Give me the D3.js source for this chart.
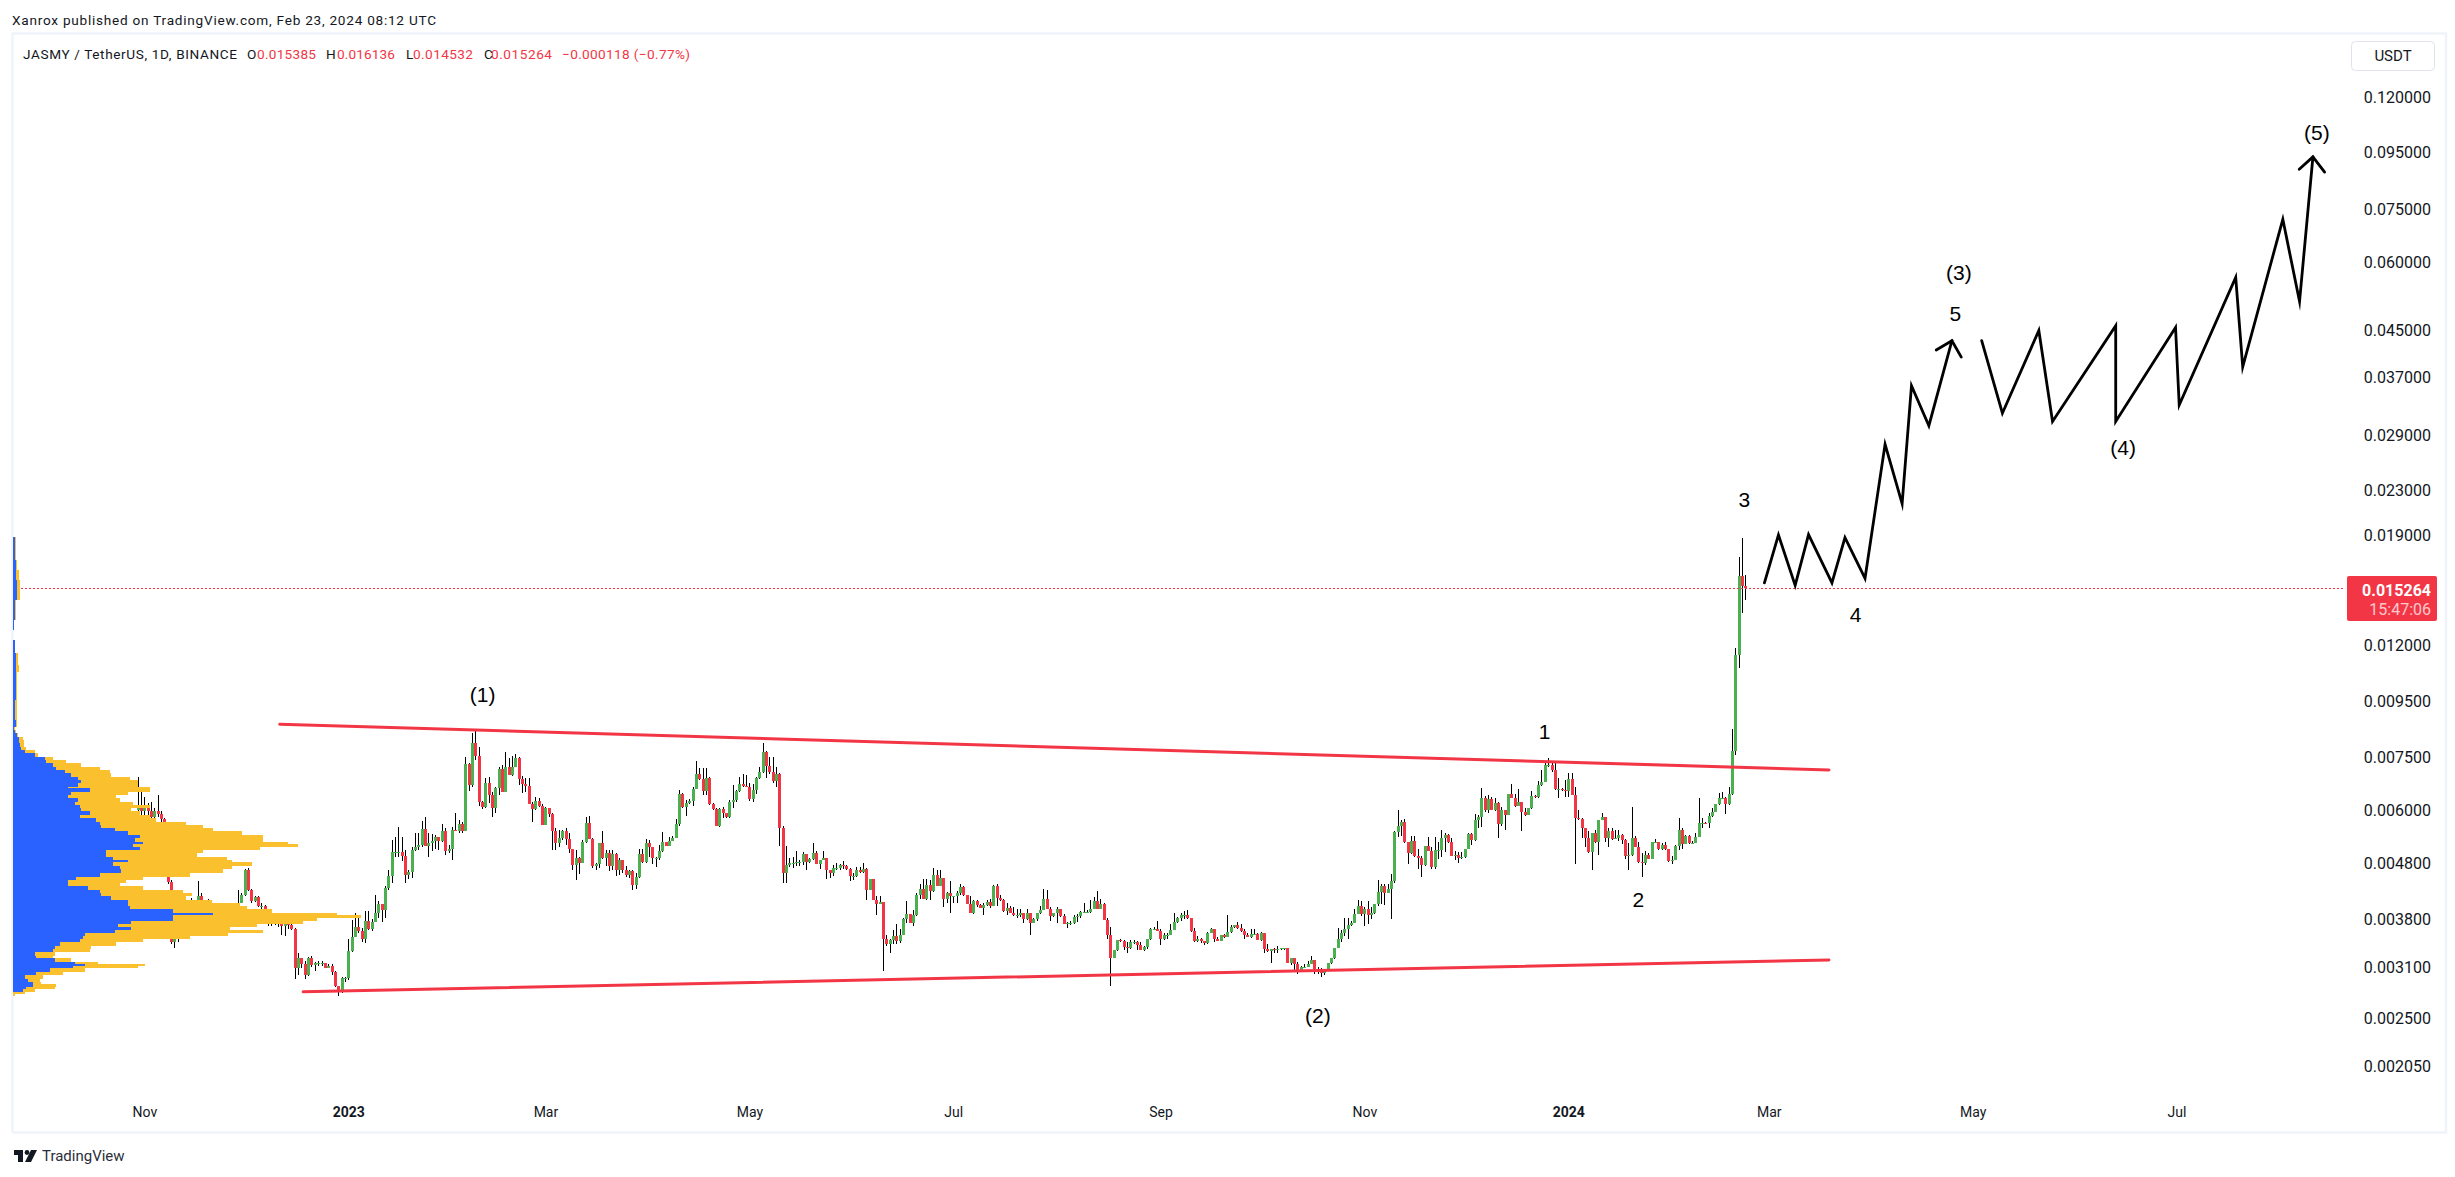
<!DOCTYPE html>
<html><head><meta charset="utf-8">
<script src="https://cdn.jsdelivr.net/npm/d3@7"></script>
<style>
html,body{margin:0;padding:0;background:#fff;overflow:hidden}
text{font-family:Roboto,"Noto Sans",sans-serif;fill:#131722}
</style></head><body><svg id="c" width="2455" height="1177"></svg>
<script>
// Prices below are in units of 0.00001 USDT
const UNIT = 1e-5;
const firstOpen = 600;
const closes = [
609,597,605,597,584,599,590,578,457,444,345,352,359,367,374,390,401,407,418,410,401,407,396,390,385,390,382,380,385,377,407,421,466,430,410,417,401,402,396,372,375,379,374,369,374,370,365,
309,322,315,301,322,313,316,316,316,310,
312,304,287,281,297,297,332,353,367,361,
349,377,364,375,389,404,395,433,456,503,
503,503,496,457,463,508,514,518,554,517,
522,527,536,528,550,506,511,552,551,566,
550,730,668,797,753,622,609,672,640,606,
658,714,649,719,696,721,748,685,670,665,
616,603,625,611,565,606,590,549,524,534,
550,531,511,477,492,481,525,568,532,475,
479,523,491,501,474,499,466,487,467,457,
465,439,453,499,483,522,514,492,492,506,
525,517,527,534,566,643,609,618,625,656,
699,684,652,686,615,603,562,603,592,584,
620,627,652,670,665,663,628,653,686,704,
767,723,704,679,699,558,462,476,480,480,
483,
483,499,483,490,501,479,487,491,466,462,
471,471,476,475,468,456,456,467,463,469,
429,450,411,405,408,349,342,348,354,346,
356,380,388,373,386,421,432,414,438,428,
457,437,452,414,424,418,418,424,434,420,
405,389,410,403,398,403,409,402,436,415,
411,393,398,390,386,387,390,380,389,374,
380,389,394,414,396,385,389,396,385,372,
374,374,384,385,391,391,392,397,410,397,
405,379,355,323,333,348,347,338,337,345,
345,341,334,338,349,364,365,361,349,356,
356,363,376,381,387,387,381,361,346,349,
346,343,359,364,349,347,356,352,360,367,
370,366,362,356,353,357,357,348,359,335,
332,335,334,335,336,336,316,322,315,307,
311,311,315,320,308,305,303,308,316,322,
336,349,359,364,370,374,388,401,388,397,
387,389,404,426,436,424,431,445,547,562,
572,525,501,528,496,492,476,516,506,472,
508,508,533,541,525,496,498,492,494,510,
543,530,576,583,633,601,628,601,619,567,
600,589,643,633,611,622,596,589,607,637,
635,667,675,725,725,711,656,656,653,652,
684,640,580,579,556,535,503,545,525,576,
584,535,550,531,533,541,530,496,498,533,
515,482,481,498,489,525,525,510,518,510,
484,487,516,552,520,538,522,524,537,570,
570,569,587,595,616,633,633,617,643,770,
1152,1605,1538,1526.4];
const highs = [
689,653,635,618,620,605,640,599,580,464,448,354,364,372,380,396,415,412,445,424,412,413,410,398,393,396,393,388,390,390,430,424,468,471,431,418,418,406,403,396,382,384,381,377,377,375,373,
366,329,320,319,324,325,317,319,319,315,
314,314,305,287,298,298,349,379,390,382,
366,393,393,380,421,410,404,436,467,530,
537,560,537,508,467,515,545,545,574,584,
545,543,541,537,566,556,518,560,592,576,
572,752,731,829,837,784,625,686,691,649,
663,719,726,768,746,754,760,750,693,686,
686,620,635,633,615,609,607,592,558,552,
552,556,545,511,508,494,530,584,586,533,
481,524,549,508,508,508,501,492,486,474,
467,467,461,511,511,531,530,515,494,518,
547,526,537,539,578,653,644,627,629,661,
738,717,716,716,691,618,605,605,609,594,
627,667,653,691,698,696,672,670,691,719,
795,770,750,750,719,701,562,516,491,494,
506,
487,503,499,492,523,505,487,506,491,467,
477,480,479,485,477,471,462,473,473,481,
471,450,450,418,418,409,356,349,363,372,
364,381,410,388,395,424,440,449,450,448,
471,467,467,452,426,445,419,427,440,436,
421,419,411,411,404,407,412,413,438,441,
421,413,407,401,399,396,396,389,397,390,
382,390,401,432,429,399,390,399,396,388,
375,377,386,388,393,406,394,412,417,427,
413,407,381,368,333,348,350,348,345,348,
348,346,345,340,349,366,368,377,364,358,
359,372,389,384,389,393,395,381,366,354,
351,347,360,366,364,352,356,357,386,370,
370,375,372,364,358,365,364,359,360,359,
342,335,337,339,337,337,336,322,323,317,
312,314,319,325,320,311,309,308,316,323,
336,366,363,381,381,377,396,411,410,399,
410,399,404,448,441,440,440,459,549,601,
576,578,526,538,538,511,495,516,537,515,
536,526,552,545,543,533,505,503,503,510,
545,545,590,589,658,637,640,635,631,622,
608,600,643,669,643,655,622,605,607,652,
640,678,711,736,746,739,736,686,658,681,
703,703,663,600,582,558,549,545,552,576,
592,584,558,556,552,552,543,531,522,608,
538,526,501,505,501,525,531,526,522,526,
511,495,519,582,556,541,541,528,545,631,
582,572,592,605,617,644,649,635,663,845,
1184,1736,1880,1613.6];
const lows = [
584,576,584,582,577,580,584,572,454,441,342,337,345,357,364,372,380,390,401,396,390,396,388,382,377,380,374,372,374,367,374,406,418,427,407,408,399,396,385,369,369,370,367,355,354,365,363,
296,300,309,295,299,311,305,312,312,309,
311,301,286,275,278,292,294,331,353,359,
345,344,363,361,375,382,375,382,430,443,
494,494,484,443,450,451,505,508,515,516,
494,505,511,508,526,497,501,487,549,545,
546,549,651,663,741,611,603,605,618,584,
592,640,649,649,696,694,719,668,646,649,
616,572,601,609,564,564,584,508,508,515,
530,519,501,467,447,459,480,522,531,471,
467,471,490,474,464,466,455,457,461,453,
451,430,431,451,480,481,494,479,473,487,
503,516,516,531,533,562,607,586,616,611,
655,681,640,640,614,601,562,559,582,582,
582,605,622,649,663,661,625,620,643,684,
701,686,699,672,663,516,443,443,473,471,
474,
475,477,466,480,487,479,469,487,449,451,
456,467,467,468,466,445,448,454,461,461,
412,429,411,387,405,305,339,330,342,342,
343,355,373,373,369,385,413,414,412,411,
425,437,437,400,407,389,407,406,421,418,
404,389,388,400,398,387,401,398,401,402,
410,392,386,390,385,382,384,374,379,356,
373,377,388,394,396,377,384,373,384,372,
366,371,372,375,382,390,390,390,397,397,
397,378,349,287,323,332,345,333,330,335,
342,334,333,332,335,348,364,361,341,348,
349,357,363,374,377,380,380,360,345,345,
344,341,342,358,345,346,347,351,352,359,
366,365,360,350,352,351,357,348,347,329,
331,316,330,330,334,334,316,313,304,302,
307,310,311,314,302,302,298,301,306,315,
321,336,345,354,349,369,373,388,385,369,
372,380,388,402,404,403,424,380,443,537,
538,522,478,499,494,468,453,474,505,468,
469,490,494,503,522,495,487,480,490,492,
515,519,528,556,560,595,592,600,597,535,
562,553,589,633,608,611,549,587,589,603,
633,633,665,678,721,706,653,631,651,635,
635,640,479,576,535,515,501,466,524,497,
576,525,515,530,531,528,520,489,467,495,
515,481,453,477,489,488,522,508,508,508,
483,478,489,508,511,520,520,520,524,537,
556,567,556,584,595,614,631,590,614,640,
757,1089,1372,1453.2];

// Visible-range volume profile: row top price, up volume, total volume (relative)
const vpLevels = [1890,1716,1646,1579,1513,1451,1334,1279,1227,1160,1104,1072,953,877,852,841,829,817,806,795,784,773,762,752,741,731,721,711,701,691,681,672,663,658,649,640,631,622,614,605,597,588,580,572,564,556,549,541,534,526,521,515,508,501,494,487,482,475,468,462,454,448,442,436,430,424,418,412,407,401,396,390,386,382,377,372,367,363,359,354,349,345,340,335,331,326,322,317,315,312,309,304,300,296,292,289,286,283,280,277,275];
const vpUp = [6,9,10,11,11,6,3,0,6,9,9,8,6,8,4,7,12,17,18,20,25,35,65,95,100,120,130,155,175,195,205,195,165,230,175,165,195,185,200,205,230,200,250,260,265,305,345,380,365,390,360,380,280,280,300,345,300,320,325,260,190,165,165,225,260,265,295,345,345,350,480,600,480,480,355,315,355,305,215,210,200,140,125,120,65,70,125,185,215,180,110,70,35,45,60,60,40,30,0,0];
const vpTotal = [9,12,18,21,20,9,4,0,6,15,18,12,12,11,6,8,14,30,32,34,40,65,75,120,160,205,260,290,295,350,375,375,410,410,345,310,320,360,410,355,380,410,430,520,570,600,685,750,750,825,855,740,570,550,640,655,715,655,630,530,390,340,320,390,510,535,520,595,680,700,775,970,1043,910,870,730,650,750,645,530,390,310,235,230,125,120,175,255,395,375,215,150,90,80,85,128,125,65,35,7];

const lastBar = new Date(Date.UTC(2024,1,23));
const daysFrom = d => new Date(+lastBar + d*864e5);
const priceTicks = [0.12,0.095,0.075,0.06,0.045,0.037,0.029,0.023,0.019,0.012,0.0095,0.0075,0.006,0.0048,0.0038,0.0031,0.0025,0.00205];
const timeTicks = [[2022,10,'Nov'],[2023,0,'2023'],[2023,2,'Mar'],[2023,4,'May'],[2023,6,'Jul'],[2023,8,'Sep'],[2023,10,'Nov'],[2024,0,'2024'],[2024,2,'Mar'],[2024,4,'May'],[2024,6,'Jul']];
const lastPrice = 0.015264;

// Trend lines: day offset from the last bar, price
const upperDays = [-438.5,25], upperPrices = [861,711];
const lowerDays = [-431.5,25], lowerPrices = [280,320];
// Projected waves
const waveADays = [5.7,9.9,14.9,18.9,25.9,29.8,35.8,41.8,46.9,49.7,54.9,61.8];
const waveAPrices = [1560,1908,1543,1910,1559,1886,1590,2791,2175,3569,3017,4312];
const headADays = [57.1,61.8,64.6], headAPrices = [4147,4312,4025];
const waveBDays = [70.7,76.9,87.8,91.9,110.8,110.8,128.7,129.8,146.7,148.8,160.8,165.8,169.8];
const waveBPrices = [4312,3180,4502,3072,4592,3072,4558,3291,5623,3864,7180,5085,9333];
const headBDays = [165.7,169.8,173.3], headBPrices = [8857,9333,8753];
// Wave labels
const labelTexts = ['(1)','1','2','(2)','3','4','(3)','5','(4)','(5)'];
const labelDays = [-377.8,-60.1,-32,-127.9,-0.3,33,63.9,62.8,113,171];
const labelPrices = [978,835,413,254,2215,1368,5733,4840,2758,10355];

const GREEN='#4CAF50', RED='#F23645', BLUE='#2962FF', ORANGE='#FBC02D', FRAME='#F0F3FA';
const svg = d3.select('#c');
const x = d3.scaleUtc().domain([daysFrom(-518.3),daysFrom(179.4)]).range([13,2345]);
const y = d3.scaleLog().domain([0.00205,0.12]).range([1066,97]);
const v = d3.scaleLinear().domain([0,1043]).range([13,361]);
const py = p => y(p*UNIT);

// frame
svg.append('rect').attr('x',0).attr('y',0).attr('width',2455).attr('height',1177).attr('fill','#fff');
svg.append('path').attr('d','M12.5,1132.5V33.5H2446V1132.5H12.5').attr('fill','none').attr('stroke',FRAME).attr('stroke-width',2.5);

// header
const hdr = svg.append('g').attr('font-size',13.6);
hdr.append('text').attr('x',12).attr('y',25).attr('fill','#2a2e39').text('Xanrox published on TradingView.com, Feb 23, 2024 08:12 UTC').attr('textLength',424);
const leg=[['JASMY / TetherUS, 1D, BINANCE',23,214,'#131722'],['O',247,9,'#131722'],['0.015385',257,59,RED],['H',326,10,'#131722'],['0.016136',337,58,RED],['L',406,7,'#131722'],['0.014532',413,60,RED],['C',484,7,'#131722'],['0.015264',491,61,RED],['−0.000118 (−0.77%)',562,128,RED]];
leg.forEach(l=>hdr.append('text').attr('x',l[1]).attr('y',59).attr('textLength',l[2]).style('fill',l[3]).text(l[0]));

// candles
const bars = closes.map((c,i)=>({date:daysFrom(i-closes.length+1),o:i?closes[i-1]:firstOpen,c,h:highs[i],l:lows[i]}));
const gc = svg.append('g');
gc.selectAll('line').data(bars).join('line')
 .attr('x1',d=>Math.round(x(d.date))+.5).attr('x2',d=>Math.round(x(d.date))+.5)
 .attr('y1',d=>py(d.h)).attr('y2',d=>py(d.l)).attr('stroke','#000').attr('stroke-width',1).attr('shape-rendering','crispEdges');
gc.selectAll('rect').data(bars).join('rect')
 .attr('x',d=>Math.round(x(d.date))-1).attr('width',3)
 .attr('y',d=>Math.min(py(d.o),py(d.c)))
 .attr('height',d=>Math.max(1,Math.abs(py(d.o)-py(d.c))))
 .attr('fill',d=>d.c>=d.o?GREEN:RED).attr('shape-rendering','crispEdges');

// last price line
svg.append('line').attr('x1',13).attr('x2',2345).attr('y1',Math.round(y(lastPrice))+.5).attr('y2',Math.round(y(lastPrice))+.5)
 .attr('stroke',RED).attr('stroke-width',1).attr('stroke-dasharray','2 2').attr('shape-rendering','crispEdges');

// volume profile
const vp = svg.append('g').attr('shape-rendering','crispEdges');
vpUp.forEach((u,i)=>{
  const t=py(vpLevels[i]), b=py(vpLevels[i+1]);
  vp.append('rect').attr('x',v(0)).attr('y',t).attr('width',v(vpTotal[i])-v(0)).attr('height',b-t).attr('fill',ORANGE);
  vp.append('rect').attr('x',v(0)).attr('y',t).attr('width',v(u)-v(0)).attr('height',b-t).attr('fill',BLUE);
});

// trend lines
const ln = d3.line().x(d=>x(daysFrom(d[0]))).y(d=>py(d[1]));
const poly=(ds,ps,w,col)=>svg.append('path').attr('d',ln(ds.map((d,i)=>[d,ps[i]]))).attr('fill','none').attr('stroke',col).attr('stroke-width',w).attr('stroke-linecap','round').attr('stroke-linejoin','miter').attr('stroke-miterlimit',10);
poly(upperDays,upperPrices,3,RED);
poly(lowerDays,lowerPrices,3,RED);
poly(waveADays,waveAPrices,2.8,'#000');
poly(headADays,headAPrices,2.8,'#000');
poly(waveBDays,waveBPrices,2.8,'#000');
poly(headBDays,headBPrices,2.8,'#000');

// labels
labelTexts.forEach((t,i)=>svg.append('text').attr('x',x(daysFrom(labelDays[i]))).attr('y',py(labelPrices[i])).attr('dy','.36em')
 .attr('text-anchor','middle').attr('font-size',21).style('font-family','"Liberation Sans",sans-serif').style('fill','#000').text(t));

// price axis
const ya = svg.append('g').attr('transform','translate(2431,0)').call(d3.axisLeft(y).tickValues(priceTicks).tickSize(0).tickPadding(0).tickFormat(d3.format('.6f')));
ya.select('.domain').remove();
ya.selectAll('text').attr('font-size',16).style('font-family','Roboto').style('fill','#131722');

// time axis
const xa = svg.append('g').attr('transform','translate(0,1107)').call(d3.axisBottom(x).tickValues(timeTicks.map(t=>new Date(Date.UTC(t[0],t[1],1)))).tickSize(0).tickPadding(0).tickFormat((d,i)=>timeTicks[i][2]));
xa.select('.domain').remove();
xa.selectAll('text').attr('font-size',14).style('font-family','Roboto').style('fill','#131722').style('font-weight',(d,i)=>/^\d/.test(timeTicks[i][2])?'700':'400');

// USDT box
svg.append('rect').attr('x',2351.5).attr('y',41.5).attr('width',83).attr('height',29).attr('rx',4).attr('fill','#fff').attr('stroke','#E0E3EB');
svg.append('text').attr('x',2393).attr('y',61).attr('text-anchor','middle').attr('font-size',15).text('USDT');

// last price label
svg.append('rect').attr('x',2347).attr('y',576).attr('width',90).attr('height',45).attr('rx',2).attr('fill',RED);
svg.append('text').attr('x',2431).attr('y',596).attr('text-anchor','end').attr('font-size',16).attr('font-weight',700).style('fill','#fff').text(d3.format('.6f')(lastPrice));
svg.append('text').attr('x',2431).attr('y',615).attr('text-anchor','end').attr('font-size',16).style('fill','#fff').style('opacity',.72).text('15:47:06');

// logo
const lg = svg.append('g').attr('fill','#131722');
lg.append('path').attr('d','M14,1150H23V1162H18V1155H14Z');
lg.append('circle').attr('cx',27).attr('cy',1152.5).attr('r',2.4);
lg.append('path').attr('d','M31,1150H37L31,1162H25Z');
svg.append('text').attr('x',42).attr('y',1161).attr('font-size',15).style('fill','#2a2e39').text('TradingView');
</script></body></html>
